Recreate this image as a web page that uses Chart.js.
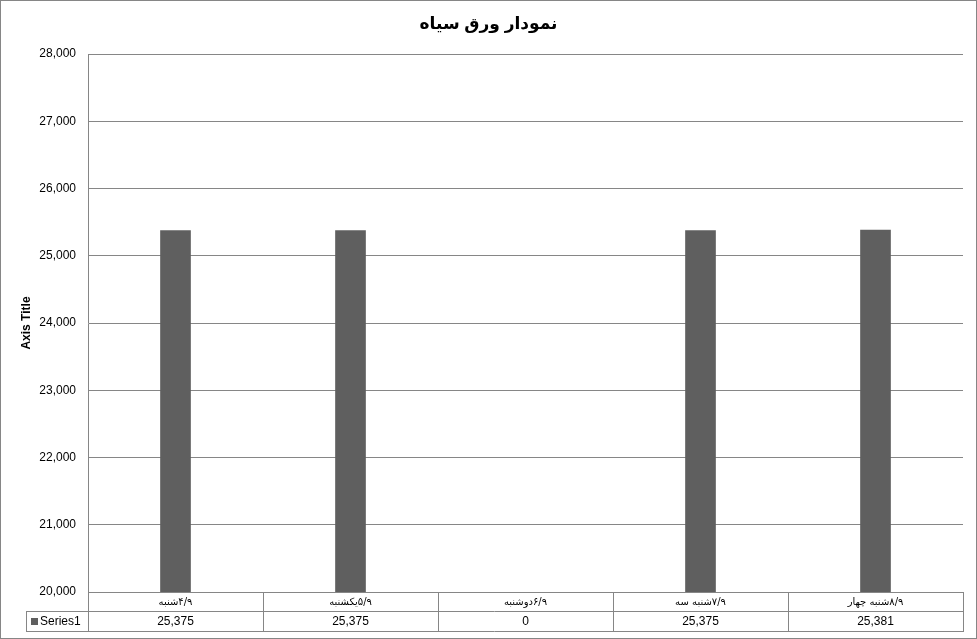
<!DOCTYPE html>
<html>
<head>
<meta charset="utf-8">
<script src="https://cdn.jsdelivr.net/npm/chart.js@4/dist/chart.umd.min.js"></script>
<style>
html,body{margin:0;padding:0;background:#fff;}
#wrap{width:977px;height:639px;}
</style>
</head>
<body>
<div id="wrap"><canvas id="c" width="977" height="639"></canvas></div>
<script>
const chartTitle = "نمودار ورق سیاه";
const axisTitle = "Axis Title";
const seriesName = "Series1";
const categories = ["شنبه۹/۴", "یکشنبه۹/۵", "دوشنبه۹/۶", "سه شنبه۹/۷", "چهار شنبه۹/۸"];
const values = [25375, 25375, 0, 25375, 25381];
const yMin = 20000, yMax = 28000, yStep = 1000;

const BAR = '#5f5f5f';
const LINE = '#868686';
const FONT = '"Liberation Sans", Arial, "DejaVu Sans", sans-serif';

function fmt(v){ return Number(v).toLocaleString('en-US'); }
// Split a label into the pieces the reference shows from left to right
function labelPieces(s){
  const m = s.match(/^(.*?)([۰-۹]+\/[۰-۹]+)$/);
  if(!m) return [s];
  const words = m[1].trim().split(' ');
  return words.concat(['\u202E' + m[2] + '\u202C']);
}
function drawPieces(ctx, pieces, cx, y){
  const sp = ctx.measureText(' ').width;
  const widths = pieces.map(p => ctx.measureText(p).width);
  const gaps = Math.max(pieces.length - 2, 0);
  const total = widths.reduce((a,b)=>a+b,0) + sp*gaps;
  let x = cx - total/2;
  ctx.textAlign = 'left';
  pieces.forEach((p,i)=>{
    ctx.fillText(p, x, y);
    x += widths[i];
    if(i < pieces.length-2) x += sp;
  });
}

const tablePlugin = {
  id: 'tablePlugin',
  beforeDraw(chart){
    const ctx = chart.ctx;
    ctx.save();
    ctx.fillStyle = '#fff';
    ctx.fillRect(0,0,chart.width,chart.height);
    ctx.restore();
  },
  afterDraw(chart){
    const ctx = chart.ctx;
    const xs = chart.scales.x;
    const ca = chart.chartArea;
    const n = categories.length;
    const w = (ca.right - ca.left)/n;
    const rowTop = ca.bottom, rowMid = ca.bottom + 19, rowBot = ca.bottom + 39;
    const legLeft = 26;
    ctx.save();
    ctx.direction = 'ltr';
    ctx.strokeStyle = LINE;
    ctx.lineWidth = 1;
    ctx.beginPath();
    ctx.moveTo(ca.left, rowTop + 0.5); ctx.lineTo(ca.right, rowTop + 0.5);
    ctx.moveTo(legLeft, rowMid + 0.5); ctx.lineTo(ca.right, rowMid + 0.5);
    ctx.moveTo(legLeft, rowBot + 0.5); ctx.lineTo(ca.right, rowBot + 0.5);
    ctx.moveTo(legLeft + 0.5, rowMid); ctx.lineTo(legLeft + 0.5, rowBot + 1);
    for(let i=0;i<=n;i++){
      const x = Math.round(xs.getPixelForValue(0) - w/2 + i*w) + 0.5;
      ctx.moveTo(x, rowTop); ctx.lineTo(x, rowBot + 1);
    }
    ctx.stroke();
    ctx.strokeRect(0.5, 0.5, chart.width - 1, chart.height - 1);

    ctx.fillStyle = '#000';
    ctx.textBaseline = 'middle';
    ctx.font = '10px Tahoma, "DejaVu Sans", sans-serif';
    categories.forEach((c,i)=>{
      drawPieces(ctx, labelPieces(c), xs.getPixelForValue(i), rowTop + 10);
    });
    ctx.textAlign = 'center';
    ctx.font = '12px ' + FONT;
    values.forEach((v,i)=>{
      ctx.fillText(fmt(v), xs.getPixelForValue(i), rowMid + 11);
    });
    ctx.fillStyle = BAR;
    ctx.fillRect(legLeft + 5, rowMid + 7, 7, 7);
    ctx.fillStyle = '#000';
    ctx.textAlign = 'left';
    ctx.fillText(seriesName, legLeft + 14, rowMid + 11);
    ctx.restore();
  }
};

new Chart(document.getElementById('c'), {
  type: 'bar',
  data: {
    labels: categories,
    datasets: [{
      label: seriesName,
      data: values,
      backgroundColor: BAR,
      borderWidth: 0,
      barThickness: 30
    }]
  },
  options: {
    responsive: false,
    animation: false,
    events: [],
    layout: { padding: { left: 14, right: 14, top: 0, bottom: 47 } },
    plugins: {
      legend: { display: false },
      tooltip: { enabled: false },
      title: {
        display: true,
        text: chartTitle,
        color: '#000',
        font: { family: 'Arial, "Liberation Sans", "DejaVu Sans", sans-serif', size: 17, weight: 'bold', lineHeight: 1.2 },
        padding: { top: 14, bottom: 19.6 }
      }
    },
    scales: {
      x: {
        display: false,
        offset: true
      },
      y: {
        min: yMin,
        max: yMax,
        afterFit(scale){ scale.width = 74; },
        border: { display: true, color: LINE, width: 1 },
        grid: { color: LINE, lineWidth: 1, drawTicks: false, tickLength: 0 },
        ticks: {
          stepSize: yStep,
          padding: 12,
          color: '#000',
          font: { family: FONT, size: 12 },
          callback: (v) => fmt(v)
        },
        title: {
          display: true,
          text: axisTitle,
          color: '#000',
          font: { family: FONT, size: 12, weight: 'bold' },
          padding: { top: 5, bottom: 0 }
        }
      }
    }
  },
  plugins: [tablePlugin]
});
</script>
</body>
</html>
